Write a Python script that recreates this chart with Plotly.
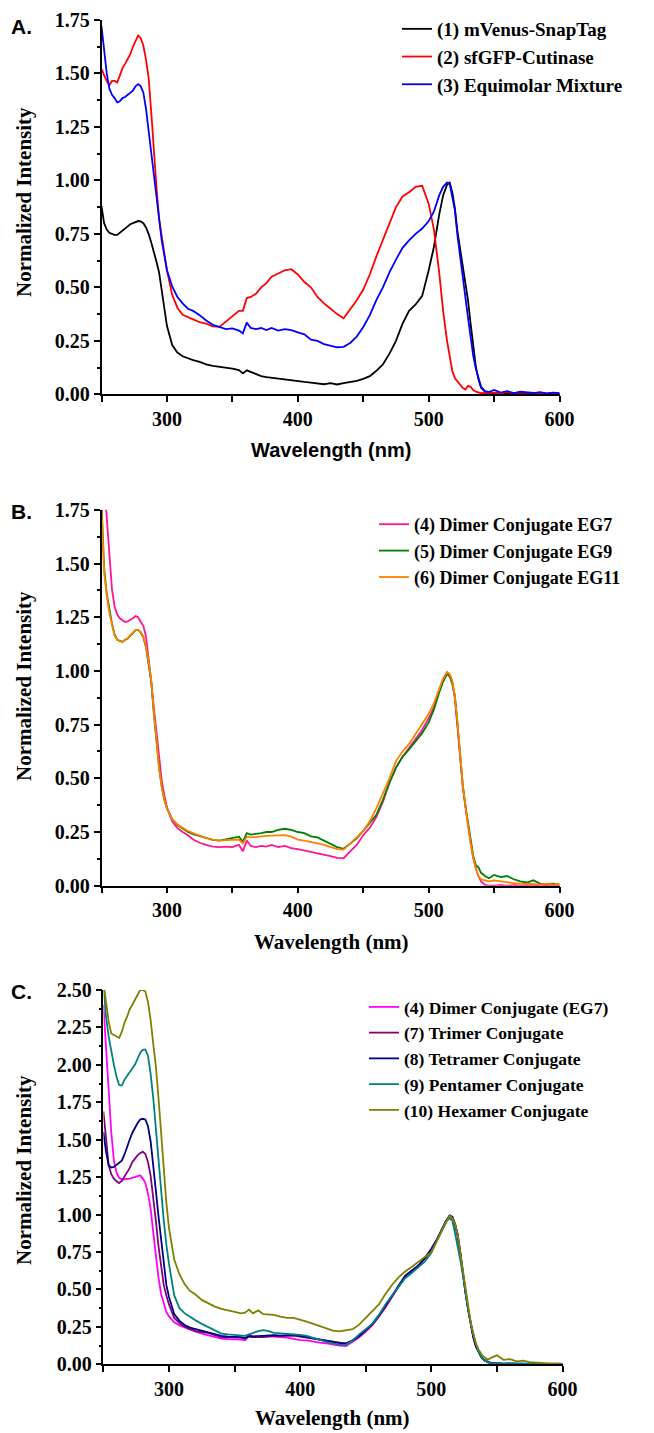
import plotly.graph_objects as go

# ---------------- data ----------------
wavelength = [
    250, 252, 254, 256, 258, 260, 262, 264, 266, 268, 270, 272, 274, 276, 278, 280, 282, 284, 286, 288, 290, 292, 294, 296, 298, 300,
    304, 308, 312, 316, 320,
    325, 330, 335, 340, 345, 350, 355,
    358, 361, 364, 368, 372, 376,
    380, 385, 390, 395, 400, 405, 410, 415, 420, 425, 430, 435, 440, 445, 450, 455, 460, 465, 470, 475, 480, 485, 490, 495, 500,
    504, 508, 511, 514, 516, 518, 520, 522, 524, 526, 528, 530, 532, 534, 536, 538, 540,
    543, 546,
    550, 555, 560, 565, 570, 575, 580, 585, 590, 595, 600]

a_mvenus = [
    0.88, 0.80, 0.77, 0.755, 0.75, 0.745, 0.745, 0.755, 0.765, 0.775, 0.785, 0.795, 0.80, 0.807, 0.81, 0.808, 0.80, 0.78, 0.75, 0.71, 0.67, 0.62, 0.57, 0.49, 0.40, 0.32,
    0.23, 0.195, 0.178, 0.168, 0.16,
    0.152, 0.14, 0.133, 0.129, 0.125, 0.12, 0.113,
    0.098, 0.112, 0.104, 0.092, 0.085, 0.08,
    0.077, 0.072, 0.066, 0.064, 0.06, 0.058, 0.055, 0.05, 0.047, 0.052, 0.046, 0.052, 0.057, 0.063, 0.072, 0.085, 0.11, 0.14, 0.19, 0.25, 0.33, 0.39, 0.42, 0.46, 0.58,
    0.69, 0.84, 0.93, 0.98, 0.99, 0.945, 0.87, 0.76, 0.68, 0.60, 0.52, 0.44, 0.33, 0.22, 0.13, 0.07, 0.03,
    0.012, 0.006,
    0.004, 0.003, 0.004, 0.002, 0.003, 0.002, 0.003, 0.002, 0.003, 0.002, 0.002]

a_sfgfp = [
    1.52, 1.49, 1.465, 1.445, 1.465, 1.465, 1.458, 1.49, 1.525, 1.545, 1.565, 1.59, 1.625, 1.655, 1.677, 1.665, 1.63, 1.565, 1.48, 1.32, 1.12, 0.97, 0.82, 0.74, 0.66, 0.58,
    0.465, 0.405, 0.372, 0.36, 0.35,
    0.337, 0.33, 0.318, 0.315, 0.34, 0.365, 0.39,
    0.39, 0.45, 0.455, 0.47, 0.50, 0.52,
    0.55, 0.565, 0.58, 0.585, 0.56, 0.525, 0.50, 0.455, 0.425, 0.40, 0.375, 0.355, 0.395, 0.44, 0.49, 0.56, 0.645, 0.72, 0.80, 0.875, 0.925, 0.945, 0.97, 0.975, 0.89,
    0.77, 0.57, 0.39, 0.25, 0.17, 0.11, 0.075, 0.06, 0.045, 0.03, 0.022, 0.04, 0.035, 0.02, 0.012, 0.008, 0.005,
    0.006, 0.004,
    0.008, 0.005, 0.01, 0.004, 0.008, 0.006, 0.004, 0.007, 0.003, 0.006, 0.004]

a_mixture = [
    1.72, 1.60, 1.50, 1.43, 1.40, 1.385, 1.365, 1.37, 1.385, 1.39, 1.40, 1.41, 1.42, 1.44, 1.45, 1.44, 1.41, 1.335, 1.23, 1.12, 1.01, 0.90, 0.80, 0.72, 0.65, 0.58,
    0.505, 0.455, 0.425, 0.40, 0.39,
    0.37, 0.345, 0.325, 0.315, 0.305, 0.308, 0.298,
    0.285, 0.335, 0.31, 0.305, 0.31, 0.30,
    0.31, 0.298, 0.305, 0.30, 0.29, 0.28, 0.255, 0.25, 0.235, 0.228, 0.22, 0.222, 0.24, 0.27, 0.315, 0.37, 0.44, 0.50, 0.57, 0.63, 0.685, 0.72, 0.75, 0.775, 0.81,
    0.855, 0.93, 0.97, 0.99, 0.985, 0.93, 0.86, 0.74, 0.64, 0.55, 0.45, 0.36, 0.27, 0.18, 0.12, 0.075, 0.035,
    0.015, 0.01,
    0.02, 0.008, 0.015, 0.005, 0.012, 0.01, 0.006, 0.01, 0.004, 0.008, 0.005]

b_eg7 = [
    2.05, 1.88, 1.72, 1.52, 1.38, 1.30, 1.262, 1.245, 1.235, 1.228, 1.23, 1.236, 1.245, 1.255, 1.25, 1.228, 1.21, 1.16, 1.06, 0.95, 0.83, 0.71, 0.58, 0.49, 0.42, 0.365,
    0.30, 0.268, 0.25, 0.235, 0.215,
    0.20, 0.19, 0.182, 0.18, 0.182, 0.18, 0.19,
    0.16, 0.21, 0.185, 0.18, 0.185, 0.182,
    0.19, 0.18, 0.185, 0.175, 0.17, 0.165, 0.158, 0.15, 0.145, 0.138, 0.13, 0.128, 0.16, 0.19, 0.235, 0.27, 0.32, 0.39, 0.48, 0.55, 0.60, 0.64, 0.685, 0.725, 0.78,
    0.83, 0.905, 0.955, 0.99, 0.975, 0.945, 0.87, 0.74, 0.58, 0.46, 0.37, 0.28, 0.2, 0.13, 0.08, 0.045, 0.02,
    0.004, 0.0,
    0.0, 0.002, 0.0, 0.003, 0.0, 0.002, 0.0, 0.003, 0.001, 0.004, 0.0]

b_eg9 = [
    1.78, 1.48, 1.36, 1.28, 1.22, 1.17, 1.145, 1.14, 1.135, 1.145, 1.15, 1.165, 1.175, 1.19, 1.19, 1.18, 1.155, 1.11, 1.04, 0.95, 0.80, 0.66, 0.55, 0.46, 0.40, 0.36,
    0.31, 0.282, 0.265, 0.25, 0.24,
    0.23, 0.22, 0.213, 0.21, 0.215, 0.22, 0.228,
    0.205, 0.245, 0.238, 0.24, 0.245, 0.25,
    0.25, 0.26, 0.265, 0.26, 0.25, 0.245, 0.23, 0.225, 0.21, 0.195, 0.18, 0.172, 0.195, 0.22, 0.255, 0.29, 0.33, 0.40, 0.48, 0.55, 0.60, 0.635, 0.675, 0.71, 0.76,
    0.82, 0.9, 0.95, 0.985, 0.975, 0.94, 0.885, 0.75, 0.60, 0.47, 0.375, 0.29, 0.21, 0.14, 0.095, 0.085, 0.06,
    0.045, 0.035,
    0.05, 0.04, 0.045, 0.03, 0.02, 0.015, 0.025, 0.01, 0.008, 0.01, 0.005]

b_eg11 = [
    1.76, 1.46, 1.35, 1.27, 1.215, 1.165, 1.145, 1.138, 1.135, 1.143, 1.152, 1.166, 1.178, 1.19, 1.192, 1.18, 1.16, 1.115, 1.045, 0.955, 0.81, 0.67, 0.55, 0.46, 0.40, 0.36,
    0.31, 0.285, 0.27, 0.255, 0.245,
    0.232, 0.222, 0.214, 0.21, 0.212, 0.213, 0.215,
    0.197, 0.228, 0.225, 0.226, 0.23, 0.232,
    0.233, 0.236, 0.235, 0.228, 0.215, 0.21, 0.205, 0.197, 0.19, 0.18, 0.17, 0.168, 0.195, 0.225, 0.255, 0.30, 0.36, 0.43, 0.50, 0.58, 0.625, 0.66, 0.705, 0.75, 0.80,
    0.85, 0.92, 0.965, 0.995, 0.985, 0.955, 0.88, 0.76, 0.61, 0.47, 0.37, 0.28, 0.2, 0.13, 0.08, 0.045, 0.03,
    0.025, 0.02,
    0.025, 0.02, 0.015, 0.012, 0.01, 0.01, 0.008, 0.005, 0.01, 0.005, 0.008]

c_dimer = [
    2.40, 2.10, 1.78, 1.55, 1.36, 1.28, 1.245, 1.236, 1.236, 1.237, 1.24, 1.245, 1.25, 1.258, 1.262, 1.242, 1.21, 1.14, 1.04, 0.88, 0.71, 0.58, 0.47, 0.40, 0.35, 0.32,
    0.28, 0.26, 0.245, 0.232, 0.22,
    0.205, 0.195, 0.18, 0.172, 0.168, 0.168, 0.165,
    0.16, 0.195, 0.188, 0.185, 0.19, 0.188,
    0.185, 0.18, 0.178, 0.17, 0.162, 0.16, 0.15, 0.145, 0.14, 0.132, 0.125, 0.122, 0.15, 0.18, 0.218, 0.26, 0.32, 0.38, 0.45, 0.52, 0.59, 0.625, 0.655, 0.71, 0.77,
    0.83, 0.9, 0.95, 0.995, 0.98, 0.93, 0.86, 0.74, 0.60, 0.47, 0.37, 0.27, 0.18, 0.12, 0.08, 0.05, 0.03,
    0.015, 0.01,
    0.005, 0.004, 0.006, 0.003, 0.004, 0.003, 0.002, 0.003, 0.002, 0.006, 0.003]

c_trimer = [
    1.69, 1.49, 1.33, 1.27, 1.24, 1.222, 1.21, 1.225, 1.255, 1.28, 1.31, 1.35, 1.375, 1.395, 1.41, 1.42, 1.405, 1.35, 1.26, 1.12, 0.96, 0.79, 0.64, 0.53, 0.46, 0.40,
    0.31, 0.275, 0.25, 0.235, 0.222,
    0.215, 0.21, 0.195, 0.182, 0.18, 0.178, 0.178,
    0.17, 0.185, 0.182, 0.18, 0.182, 0.185,
    0.19, 0.188, 0.19, 0.192, 0.185, 0.178, 0.17, 0.162, 0.155, 0.148, 0.14, 0.138, 0.158, 0.185, 0.225, 0.265, 0.32, 0.385, 0.455, 0.52, 0.585, 0.62, 0.655, 0.705, 0.765,
    0.825, 0.895, 0.95, 0.99, 0.985, 0.935, 0.865, 0.75, 0.61, 0.48, 0.37, 0.27, 0.185, 0.12, 0.08, 0.05, 0.03,
    0.015, 0.008,
    0.005, 0.004, 0.005, 0.003, 0.004, 0.002, 0.003, 0.002, 0.003, 0.002, 0.002]

c_tetramer = [
    1.55, 1.42, 1.33, 1.315, 1.318, 1.33, 1.345, 1.36, 1.40, 1.455, 1.50, 1.545, 1.58, 1.61, 1.635, 1.64, 1.635, 1.59, 1.49, 1.34, 1.16, 0.99, 0.82, 0.66, 0.53, 0.45,
    0.335, 0.29, 0.262, 0.245, 0.235,
    0.225, 0.215, 0.2, 0.19, 0.185, 0.182, 0.182,
    0.175, 0.19, 0.185, 0.188, 0.19, 0.195,
    0.195, 0.192, 0.195, 0.198, 0.19, 0.182, 0.172, 0.165, 0.158, 0.15, 0.142, 0.14, 0.16, 0.19, 0.23, 0.27, 0.325, 0.39, 0.46, 0.525, 0.59, 0.625, 0.66, 0.71, 0.77,
    0.83, 0.9, 0.955, 0.995, 0.985, 0.94, 0.87, 0.75, 0.61, 0.48, 0.37, 0.27, 0.18, 0.12, 0.08, 0.05, 0.03,
    0.015, 0.008,
    0.005, 0.003, 0.004, 0.002, 0.003, 0.002, 0.002, 0.003, 0.002, 0.002, 0.001]

c_pentamer = [
    2.55, 2.32, 2.19, 2.09, 2.00, 1.92, 1.865, 1.862, 1.90, 1.925, 1.95, 1.97, 2.00, 2.04, 2.08, 2.10, 2.103, 2.06, 1.94, 1.78, 1.56, 1.35, 1.13, 0.96, 0.80, 0.67,
    0.46, 0.375, 0.34, 0.315, 0.295,
    0.27, 0.25, 0.23, 0.205, 0.2, 0.198, 0.195,
    0.19, 0.2, 0.21, 0.222, 0.228, 0.222,
    0.21, 0.207, 0.205, 0.2, 0.196, 0.19, 0.175, 0.16, 0.15, 0.14, 0.132, 0.13, 0.16, 0.2, 0.235, 0.27, 0.33, 0.40, 0.46, 0.52, 0.575, 0.61, 0.645, 0.685, 0.745,
    0.82, 0.9, 0.955, 0.975, 0.96, 0.88, 0.8, 0.7, 0.6, 0.48, 0.37, 0.28, 0.2, 0.135, 0.085, 0.05, 0.03,
    0.015, 0.008,
    0.005, 0.004, 0.006, 0.003, 0.004, 0.002, 0.003, 0.002, 0.003, 0.002, 0.002]

c_hexamer = [
    2.55, 2.40, 2.29, 2.21, 2.20, 2.195, 2.18, 2.22, 2.28, 2.32, 2.37, 2.40, 2.435, 2.47, 2.50, 2.50, 2.49, 2.42, 2.30, 2.14, 1.99, 1.78, 1.55, 1.29, 1.08, 0.91,
    0.70, 0.60, 0.535, 0.49, 0.468,
    0.43, 0.405, 0.385, 0.37, 0.36, 0.352, 0.34,
    0.345, 0.365, 0.34, 0.36, 0.335, 0.33,
    0.33, 0.318, 0.31, 0.31, 0.30, 0.285, 0.27, 0.255, 0.24, 0.225, 0.22, 0.228, 0.235, 0.265, 0.31, 0.35, 0.40, 0.47, 0.53, 0.58, 0.62, 0.65, 0.685, 0.715, 0.75,
    0.82, 0.89, 0.95, 0.995, 0.975, 0.94, 0.87, 0.75, 0.62, 0.49, 0.38, 0.28, 0.2, 0.14, 0.1, 0.07, 0.05,
    0.03, 0.045,
    0.06, 0.03, 0.035, 0.02, 0.025, 0.015, 0.012, 0.008, 0.004, 0.003, 0.005]

panel_a_names = ["(1) mVenus-SnapTag", "(2) sfGFP-Cutinase", "(3) Equimolar Mixture"]
panel_b_names = ["(4) Dimer Conjugate EG7", "(5) Dimer Conjugate EG9", "(6) Dimer Conjugate EG11"]
panel_c_names = ["(4) Dimer Conjugate (EG7)", "(7) Trimer Conjugate", "(8) Tetramer Conjugate",
                 "(9) Pentamer Conjugate", "(10) Hexamer Conjugate"]

x_tick_labels = [300, 400, 500, 600]
y_ticks_ab = [0, 0.25, 0.5, 0.75, 1.0, 1.25, 1.5, 1.75]
y_ticks_c = [0, 0.25, 0.5, 0.75, 1.0, 1.25, 1.5, 1.75, 2.0, 2.25, 2.5]

# ---------------- figure ----------------
FW, FH = 654, 1433
SERIF = "Liberation Serif"
SANS = "Liberation Sans"


def px(v):
    return v / FW


def py(v):
    return 1 - v / FH


fig = go.Figure()

panels = [
    ("x", "y", "legend", [a_mvenus, a_sfgfp, a_mixture], panel_a_names,
     ["#000000", "#ff0000", "#0000ff"]),
    ("x2", "y2", "legend2", [b_eg7, b_eg9, b_eg11], panel_b_names,
     ["#ff1493", "#008000", "#ff8000"]),
    ("x3", "y3", "legend3", [c_dimer, c_trimer, c_tetramer, c_pentamer, c_hexamer], panel_c_names,
     ["#ff00ff", "#800080", "#000080", "#008080", "#808000"]),
]
for xa, ya, lg, series, names, colors in panels:
    for s, n, c in zip(series, names, colors):
        fig.add_trace(go.Scatter(x=wavelength, y=s, name=n, mode="lines",
                                 line=dict(color=c, width=1.8),
                                 xaxis=xa, yaxis=ya, legend=lg))

tickfont = dict(family=SERIF, size=20, color="black", weight="bold")


def xaxis(domain, anchor):
    return dict(domain=domain, anchor=anchor, range=[250, 600], automargin=False,
                tickmode="array", tickvals=x_tick_labels, ticks="outside",
                ticklen=6, tickwidth=1.5, tickcolor="black",
                minor=dict(tickmode="array", tickvals=[250, 350, 450, 550], ticks="outside",
                           ticklen=6, tickwidth=1.5, tickcolor="black", showgrid=False),
                showline=True, linecolor="black", linewidth=1.5,
                showgrid=False, zeroline=False, tickfont=tickfont)


def yaxis(domain, anchor, top, ticks):
    minors = [t + 0.125 for t in ticks[:-1]]
    return dict(domain=domain, anchor=anchor, range=[0, top], automargin=False,
                tickmode="array", tickvals=ticks, tickformat=".2f", ticks="outside",
                ticklen=6, tickwidth=1.5, tickcolor="black",
                minor=dict(tickmode="array", tickvals=minors, ticks="outside",
                           ticklen=3, tickwidth=1.5, tickcolor="black", showgrid=False),
                showline=True, linecolor="black", linewidth=1.5,
                showgrid=False, zeroline=False, tickfont=tickfont)


dom_ab = [px(101.5), px(559.6)]
dom_c = [px(103.4), px(562.5)]

leg_common = dict(xanchor="left", yanchor="top", bgcolor="rgba(0,0,0,0)",
                  borderwidth=0, tracegroupgap=0)

fig.update_layout(
    width=FW, height=FH,
    margin=dict(l=0, r=0, t=0, b=0, pad=0, autoexpand=False),
    paper_bgcolor="white", plot_bgcolor="white", showlegend=True,
    xaxis=xaxis(dom_ab, "y"),
    yaxis=yaxis([py(394.3), py(20)], "x", 1.75, y_ticks_ab),
    xaxis2=xaxis(dom_ab, "y2"),
    yaxis2=yaxis([py(885.7), py(509.8)], "x2", 1.75, y_ticks_ab),
    xaxis3=xaxis(dom_c, "y3"),
    yaxis3=yaxis([py(1364.3), py(990)], "x3", 2.5, y_ticks_c),
    legend=dict(x=px(397), y=py(10), font=dict(family=SERIF, size=19, color="black", weight="bold"), **leg_common),
    legend2=dict(x=px(374), y=py(506), font=dict(family=SERIF, size=18, color="black", weight="bold"), **leg_common),
    legend3=dict(x=px(364), y=py(989), font=dict(family=SERIF, size=17.5, color="black", weight="bold"), **leg_common),
)

ann = []
# panel letters
for label, yc in [("A.", 26), ("B.", 511), ("C.", 991)]:
    ann.append(dict(text=label, x=px(9), y=py(yc), xref="paper", yref="paper",
                    xanchor="left", yanchor="middle", showarrow=False,
                    font=dict(family=SANS, size=21, color="black", weight="bold")))
# y titles
for yc in [202, 686, 1170]:
    ann.append(dict(text="Normalized Intensity", x=px(24), y=py(yc), xref="paper", yref="paper",
                    xanchor="center", yanchor="middle", textangle=-90, showarrow=False,
                    font=dict(family=SERIF, size=21, color="black", weight="bold")))
# x titles
ann.append(dict(text="Wavelength (nm)", x=px(331), y=py(450), xref="paper", yref="paper",
                xanchor="center", yanchor="middle", showarrow=False,
                font=dict(family=SANS, size=20, color="black", weight="bold")))
ann.append(dict(text="Wavelength (nm)", x=px(331), y=py(942), xref="paper", yref="paper",
                xanchor="center", yanchor="middle", showarrow=False,
                font=dict(family=SERIF, size=21, color="black", weight="bold")))
ann.append(dict(text="Wavelength (nm)", x=px(333), y=py(1418), xref="paper", yref="paper",
                xanchor="center", yanchor="middle", showarrow=False,
                font=dict(family=SERIF, size=21, color="black", weight="bold")))
fig.update_layout(annotations=ann)

fig.write_html("out.html")
